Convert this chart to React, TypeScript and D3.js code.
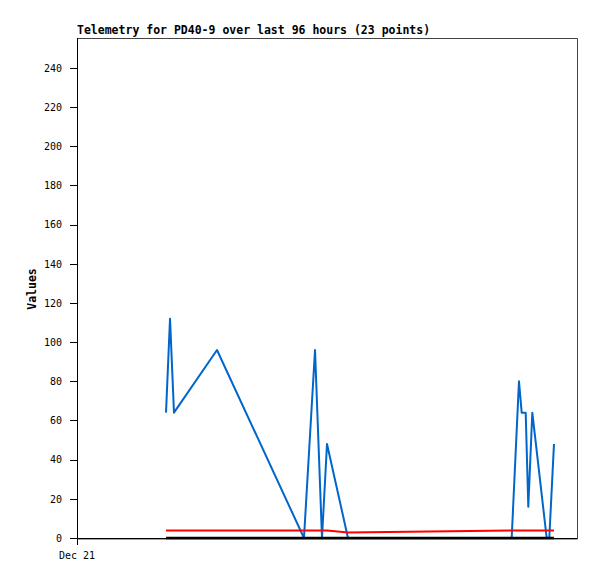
import React from "react";
import * as d3 from "d3";

const title = "Telemetry for PD40-9 over last 96 hours (23 points)";
const yLabel = "Values";
const xTickHours = [0];
const xTickLabels = ["Dec 21"];
const yTicks = [0, 20, 40, 60, 80, 100, 120, 140, 160, 180, 200, 220, 240];

// hours since Dec 21 00:00
const blueHours = [17.09, 17.86, 18.62, 26.88, 43.58, 45.7, 47.04, 48.0, 52.03, 83.46, 84.86, 85.38, 86.15, 86.65, 87.42, 90.18, 90.68, 91.58];
const blueValues = [64, 112, 64, 96, 0, 96, 0, 48, 0, 0, 80, 64, 64, 16, 64, 0, 0, 48];

const redHours = [17.09, 48.0, 52.03, 83.46, 91.58];
const redValues = [3.8, 3.8, 2.8, 3.8, 3.8];

const blackHours = [17.09, 91.58];
const blackValues = [0, 0];

const W = 597, H = 579;
const left = 77, right = 577, top = 38, bottom = 538;
const FONT = "'DejaVu Sans Mono', 'Liberation Mono', monospace";

export default function App() {
  const x = d3.scaleLinear().domain([0, 96]).range([left, right]);
  const y = d3.scaleLinear().domain([0, 255.3]).range([bottom, top]);
  const line = d3.line<[number, number]>().x((d) => x(d[0])).y((d) => y(d[1]));
  const zip = (a: number[], b: number[]) => a.map((v, i) => [v, b[i]] as [number, number]);

  return (
    <svg width={W} height={H} style={{ position: "absolute", left: 0, top: 0, background: "#fff" }}>
      <rect x={0} y={0} width={W} height={H} fill="#fff" />
      {/* frame */}
      <path d={`M${left},${top + 0.5}H${right + 0.5}V${bottom + 1}H${left}`} fill="none" stroke="#444" strokeWidth={1} />
      <text x={left} y={34} fontFamily={FONT} fontWeight="bold" fontSize={11.5} fill="#000">{title}</text>
      <text transform={`translate(36,289) rotate(-90)`} textAnchor="middle" fontFamily={FONT} fontWeight="bold" fontSize={11.5} fill="#000">{yLabel}</text>
      {/* y axis */}
      {yTicks.map((t) => (
        <g key={t}>
          <line x1={70} x2={left} y1={Math.round(y(t)) + 0.5} y2={Math.round(y(t)) + 0.5} stroke="#000" />
          <text x={62} y={y(t) + 3.8} textAnchor="end" fontFamily={FONT} fontSize={10} fill="#000">{t}</text>
        </g>
      ))}
      {/* x axis ticks */}
      {xTickHours.map((h, i) => (
        <g key={h}>
          <line x1={x(h) + 0.5} x2={x(h) + 0.5} y1={bottom} y2={bottom + 7} stroke="#000" />
          <text x={x(h)} y={559} textAnchor="middle" fontFamily={FONT} fontSize={10} fill="#000">{xTickLabels[i]}</text>
        </g>
      ))}
      {/* series */}
      <path d={line(zip(blueHours, blueValues)) || ""} fill="none" stroke="#0066cc" strokeWidth={2} strokeLinejoin="round" />
      <path d={line(zip(redHours, redValues)) || ""} fill="none" stroke="#ff0000" strokeWidth={2} />
      <path d={line(zip(blackHours, blackValues)) || ""} fill="none" stroke="#000" strokeWidth={2.5} />
      {/* axes lines */}
      <line x1={left + 0.5} x2={left + 0.5} y1={top} y2={bottom + 7} stroke="#000" />
      <line x1={left} x2={right} y1={bottom + 0.5} y2={bottom + 0.5} stroke="#000" />
    </svg>
  );
}
